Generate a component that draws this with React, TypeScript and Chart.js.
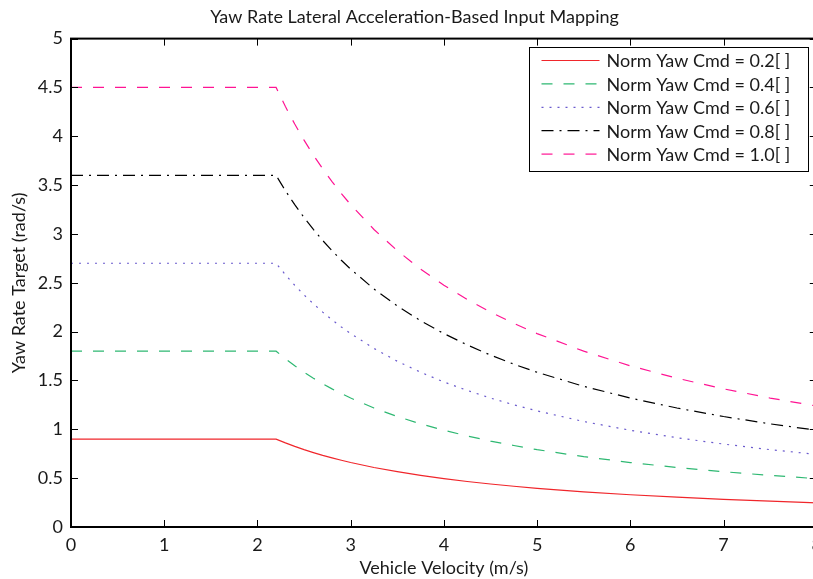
import React, { useEffect, useRef } from "react";
import { Chart, registerables } from "chart.js";

Chart.register(...registerables);

const velocity = [0, 2.2, 2.3, 2.4, 2.5, 2.6, 2.7, 2.8, 2.9, 3.0, 3.25, 3.5, 3.75, 4.0, 4.25, 4.5, 4.75, 5.0, 5.5, 6.0, 6.5, 7.0, 7.5, 8.0];
const cmd02 = [0.9, 0.9, 0.861, 0.825, 0.792, 0.762, 0.733, 0.707, 0.683, 0.66, 0.609, 0.566, 0.528, 0.495, 0.466, 0.44, 0.417, 0.396, 0.36, 0.33, 0.305, 0.283, 0.264, 0.248];
const cmd04 = [1.8, 1.8, 1.722, 1.65, 1.584, 1.523, 1.467, 1.414, 1.366, 1.32, 1.218, 1.131, 1.056, 0.99, 0.932, 0.88, 0.834, 0.792, 0.72, 0.66, 0.609, 0.566, 0.528, 0.495];
const cmd06 = [2.7, 2.7, 2.583, 2.475, 2.376, 2.285, 2.2, 2.121, 2.048, 1.98, 1.828, 1.697, 1.584, 1.485, 1.398, 1.32, 1.251, 1.188, 1.08, 0.99, 0.914, 0.849, 0.792, 0.743];
const cmd08 = [3.6, 3.6, 3.443, 3.3, 3.168, 3.046, 2.933, 2.829, 2.731, 2.64, 2.437, 2.263, 2.112, 1.98, 1.864, 1.76, 1.667, 1.584, 1.44, 1.32, 1.218, 1.131, 1.056, 0.99];
const cmd10 = [4.5, 4.5, 4.304, 4.125, 3.96, 3.808, 3.667, 3.536, 3.414, 3.3, 3.046, 2.829, 2.64, 2.475, 2.329, 2.2, 2.084, 1.98, 1.8, 1.65, 1.523, 1.414, 1.32, 1.238];

const seriesLabels = [
  "Norm Yaw Cmd = 0.2[ ]",
  "Norm Yaw Cmd = 0.4[ ]",
  "Norm Yaw Cmd = 0.6[ ]",
  "Norm Yaw Cmd = 0.8[ ]",
  "Norm Yaw Cmd = 1.0[ ]",
];
const seriesValues = [cmd02, cmd04, cmd06, cmd08, cmd10];
const seriesColors = ["#f0262b", "#2eb872", "#6a5acd", "#000000", "#ff1493"];
const seriesDashes: number[][] = [[], [11, 11], [2, 6], [12, 6, 2, 6], [11, 11]];

const titleText = "Yaw Rate Lateral Acceleration-Based Input Mapping";
const xTitle = "Vehicle Velocity (m/s)";
const yTitle = "Yaw Rate Target (rad/s)";

const FONT = 'Lato, "Open Sans", sans-serif';
const TEXT = "#1a1a1a";
const FS = 18;

const boxPlugin = {
  id: "boxTicks",
  afterDraw(chart: any) {
    const ctx = chart.ctx;
    const { left, right, top, bottom } = chart.chartArea;
    const xs = chart.scales.x;
    const ys = chart.scales.y;
    ctx.save();
    ctx.strokeStyle = "#000";
    ctx.lineWidth = 1;
    ctx.beginPath();
    xs.ticks.forEach((t: any) => {
      const px = Math.round(xs.getPixelForValue(t.value)) + 0.5;
      ctx.moveTo(px, bottom);
      ctx.lineTo(px, bottom - 7);
      ctx.moveTo(px, top);
      ctx.lineTo(px, top + 7);
    });
    ys.ticks.forEach((t: any) => {
      const py = Math.round(ys.getPixelForValue(t.value)) + 0.5;
      ctx.moveTo(left, py);
      ctx.lineTo(left + 7, py);
      ctx.moveTo(right, py);
      ctx.lineTo(right - 7, py);
    });
    ctx.stroke();
    ctx.lineWidth = 2;
    ctx.strokeRect(left, top, right - left, bottom - top);

    // legend
    const w = 279;
    const h = 124;
    const x0 = Math.round(right - 9 - w) + 0.5;
    const y0 = Math.round(top + 8) + 0.5;
    ctx.fillStyle = "#fff";
    ctx.fillRect(x0, y0, w, h);
    ctx.lineWidth = 1;
    ctx.strokeStyle = "#000";
    ctx.strokeRect(x0, y0, w, h);
    ctx.font = `${FS}px ${FONT}`;
    ctx.textBaseline = "middle";
    ctx.textAlign = "left";
    chart.data.datasets.forEach((ds: any, i: number) => {
      const y = y0 + 13 + i * 23.4;
      ctx.setLineDash(ds.borderDash || []);
      ctx.strokeStyle = ds.borderColor;
      ctx.lineWidth = ds.borderWidth;
      ctx.beginPath();
      ctx.moveTo(x0 + 12, y);
      ctx.lineTo(x0 + 70, y);
      ctx.stroke();
      ctx.setLineDash([]);
      ctx.fillStyle = TEXT;
      ctx.fillText(ds.label, x0 + 77, y + 1);
    });
    ctx.restore();
  },
};

export default function App() {
  const ref = useRef<HTMLCanvasElement | null>(null);
  useEffect(() => {
    if (!ref.current) return;
    const chart = new Chart(ref.current, {
      type: "line",
      data: {
        datasets: seriesValues.map((vals, i) => ({
          label: seriesLabels[i],
          data: velocity.map((v, j) => ({ x: v, y: vals[j] })),
          borderColor: seriesColors[i],
          backgroundColor: seriesColors[i],
          borderDash: seriesDashes[i],
          borderWidth: 1.2,
          pointRadius: 0,
          fill: false,
          tension: 0,
        })),
      },
      options: {
        animation: false,
        responsive: true,
        maintainAspectRatio: false,
        layout: { padding: { left: 0, right: 0, top: 0, bottom: 0 } },
        plugins: {
          legend: { display: false },
          tooltip: { enabled: false },
          title: {
            display: true,
            text: titleText,
            color: TEXT,
            font: { family: FONT, size: FS, weight: "normal" },
            padding: { top: 6, bottom: 11 },
          },
        },
        scales: {
          x: {
            type: "linear",
            min: 0,
            max: 8,
            grid: { display: false, drawTicks: false },
            border: { display: false },
            ticks: { stepSize: 1, color: TEXT, font: { family: FONT, size: FS }, padding: 7, maxRotation: 0 },
            title: { display: true, text: xTitle, color: TEXT, font: { family: FONT, size: FS }, padding: { top: 0, bottom: 0 } },
            afterFit: (s: any) => {
              s.height = 52;
            },
          },
          y: {
            type: "linear",
            min: 0,
            max: 5,
            grid: { display: false, drawTicks: false },
            border: { display: false },
            ticks: {
              stepSize: 0.5,
              color: TEXT,
              font: { family: FONT, size: FS },
              padding: 8,
              callback: (v: any) => `${+v}`,
            },
            title: { display: true, text: yTitle, color: TEXT, font: { family: FONT, size: FS }, padding: { top: 8, bottom: 0 } },
            afterFit: (s: any) => {
              s.width = 71;
            },
          },
        },
      },
      plugins: [boxPlugin],
    });
    return () => chart.destroy();
  }, []);
  return (
    <div style={{ position: "absolute", left: 0, top: 0, width: 813, height: 579, overflow: "hidden", background: "#fff" }}>
      <div style={{ position: "relative", width: 829, height: 579 }}>
        <canvas ref={ref} />
      </div>
    </div>
  );
}
